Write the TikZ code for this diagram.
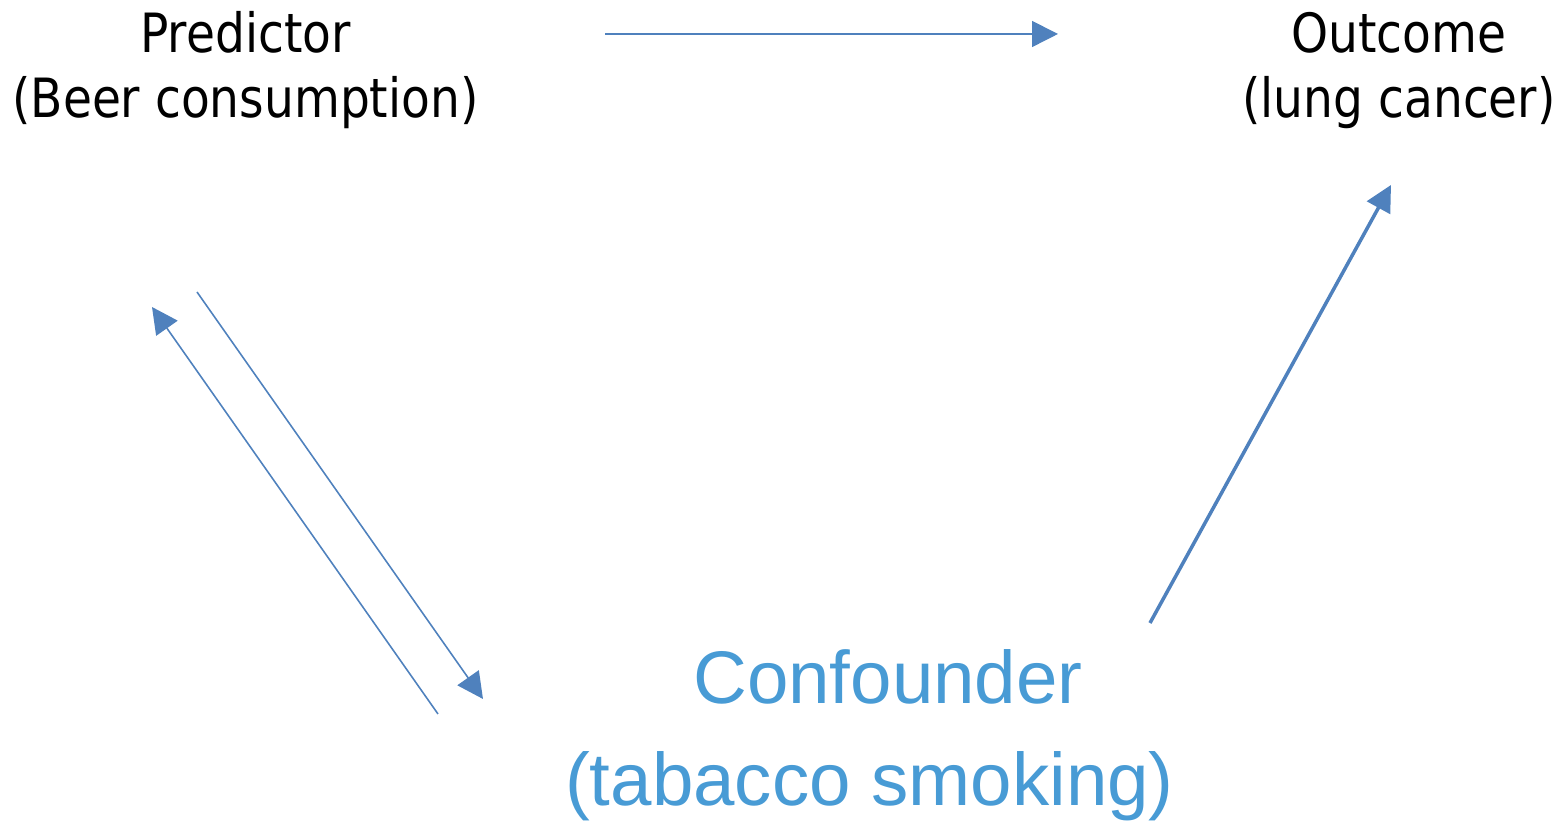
\documentclass[tikz,border=0pt]{standalone}
\usepackage{fontspec}
\setmainfont{DejaVu Sans}[FakeStretch=0.87]
\newfontfamily\confont{Liberation Sans}
\usepackage{tikz}
\usetikzlibrary{arrows.meta}
\definecolor{arrowblue}{HTML}{4F81BD}
\definecolor{textblue}{HTML}{489BD5}
\tikzset{
  varbox/.style={align=center, inner sep=0pt, font=\fontsize{15.4pt}{18.5pt}\selectfont},
  confbox/.style={align=center, inner sep=0pt, text=textblue, font=\confont\fontsize{21.2pt}{29pt}\selectfont},
  thinarrow/.style={arrowblue, line width=0.45pt, -{Triangle[length=0.26cm, width=0.26cm]}},
  thickarrow/.style={arrowblue, line width=1pt, -{Triangle[length=0.26cm, width=0.26cm]}}
}

\begin{document}
\begin{tikzpicture}
\useasboundingbox (0,0) rectangle (15.66,-8.24);

\node[varbox] (predictor) at (2.455,-0.705) {Predictor\\(Beer consumption)};
\node[varbox] (outcome) at (13.99,-0.705) {Outcome\\(lung cancer)};
\node[confbox] (confounder) at (8.88,-7.35) {Confounder\\(tabacco smoking)\kern0.37cm};

\coordinate (toptail) at (6.05,-0.34);
\coordinate (toptip) at (10.58,-0.34);
\coordinate (downtail) at (1.97,-2.92);
\coordinate (downtip) at (4.83,-6.99);
\coordinate (uptail) at (4.38,-7.14);
\coordinate (uptip) at (1.52,-3.07);
\coordinate (conftail) at (11.50,-6.23);
\coordinate (conftip) at (13.91,-1.85);

\draw[thinarrow] (toptail) -- (toptip);
\draw[thinarrow] (downtail) -- (downtip);
\draw[thinarrow] (uptail) -- (uptip);
\draw[thickarrow] (conftail) -- (conftip);
\end{tikzpicture}
\end{document}
